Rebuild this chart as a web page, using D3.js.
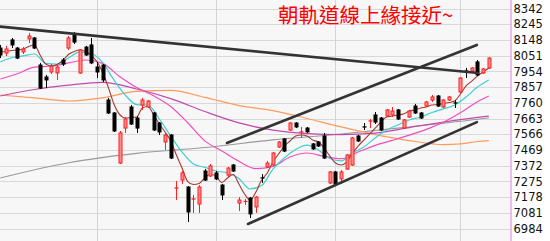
<!DOCTYPE html>
<html><head><meta charset="utf-8">
<script src="https://cdn.jsdelivr.net/npm/d3@7"></script>
<style>html,body{margin:0;padding:0;background:#fff;}svg{display:block;}</style>
</head><body>
<svg id="c" width="550" height="241"></svg>
<script>
// ---- data ----
const tickLabels = [8342, 8245, 8148, 8051, 7954, 7857, 7760, 7663, 7566, 7469, 7372, 7275, 7178, 7081, 6984];
const title = "朝軌道線上緣接近~";
// candles: open, high, low, close
const open  = [8098,8067,8148,8098,8074,8154,8160,7993,7919,7950,7944,8024,8098,8178,7944,8104,8117,7981,7993,7777,7697,7388,7604,7734,7666,7746,7734,7697,7635,7518,7561,7228,7283,7240,7160,7135,7339,7308,7327,7252,7314,7376,7141,7148,7172,7117,7299,7364,7376,7487,7537,7592,7635,7574,7604,7506,7518,7555,7265,7333,7290,7351,7376,7555,7614,7645,7685,7666,7678,7685,7716,7604,7672,7740,7697,7740,7777,7802,7734,7777,7762,7827,7959,7956,8012,7944,7975];
const high  = [8117,8111,8160,8104,8104,8191,8166,8006,7932,7999,7993,8036,8172,8197,8092,8111,8160,8012,7999,7790,7703,7586,7672,7746,7678,7790,7777,7703,7641,7574,7567,7277,7339,7246,7191,7252,7351,7382,7339,7259,7364,7382,7178,7166,7178,7185,7320,7401,7456,7524,7543,7641,7641,7611,7611,7512,7524,7574,7339,7339,7345,7444,7549,7561,7635,7660,7703,7672,7722,7734,7722,7660,7716,7753,7703,7771,7808,7808,7783,7802,7777,7919,7975,7981,8024,7975,8043];
const low   = [8036,8049,8098,8030,8061,8129,8092,7845,7851,7938,7901,7987,8086,8123,7938,8049,7999,7913,7888,7691,7580,7382,7574,7623,7574,7716,7728,7586,7561,7469,7413,7160,7259,7024,7080,7080,7277,7302,7283,7160,7302,7333,7092,7129,7049,7080,7265,7357,7370,7481,7456,7586,7604,7543,7574,7469,7487,7413,7259,7246,7259,7345,7370,7518,7592,7604,7629,7586,7672,7672,7654,7598,7666,7691,7660,7734,7765,7734,7728,7771,7728,7820,7913,7950,7925,7938,7969];
const close = [8055,8092,8117,8036,8092,8172,8098,7851,7901,7987,7981,7999,8160,8135,8086,8055,8006,7950,7901,7697,7586,7574,7660,7629,7604,7777,7771,7592,7580,7561,7419,7240,7327,7086,7172,7240,7283,7370,7290,7191,7357,7339,7160,7154,7074,7178,7293,7388,7450,7518,7462,7635,7611,7586,7580,7475,7493,7419,7333,7259,7333,7438,7543,7524,7608,7651,7641,7592,7716,7709,7660,7654,7709,7697,7666,7765,7796,7740,7777,7796,7756,7913,7953,7975,7932,7969,8036];
// moving averages
const ma5 = [8074,8077,8083,8086,8092,8107,8117,8055,7999,7987,7996,8021,8058,8077,8086,8077,8052,8015,7950,7857,7753,7688,7666,7669,7672,7728,7737,7685,7629,7580,7524,7438,7357,7274,7256,7262,7296,7320,7305,7268,7296,7317,7259,7197,7160,7209,7283,7327,7395,7444,7493,7524,7555,7561,7555,7530,7518,7481,7432,7388,7376,7395,7450,7493,7530,7567,7604,7641,7672,7678,7685,7691,7709,7716,7728,7734,7746,7749,7756,7762,7771,7814,7864,7894,7925,7950,7975];
const ma10Idx = [0,2,4,6,8,10,12,14,16,18,20,22,24,26,28,30,32,34,36,38,40,42,44,46,48,50,52,54,56,58,60,62,64,66,68,70,72,74,76,78,80,82,84,86];
const ma10 = [8012,8038,8049,8061,8003,7999,8036,8074,8064,8009,7901,7808,7749,7746,7660,7555,7456,7382,7361,7339,7327,7293,7228,7249,7351,7419,7472,7499,7469,7416,7401,7450,7487,7543,7592,7623,7654,7672,7700,7722,7746,7796,7857,7901];
const ma20Idx = [0,3,6,9,12,15,18,21,24,27,30,33,36,39,42,45,48,51,54,57,60,63,66,69,72,75,78,81,84,86];
const ma20 = [7907,7939,7980,7987,8006,8024,8003,7922,7854,7803,7737,7637,7525,7463,7399,7353,7367,7425,7450,7430,7415,7456,7497,7528,7560,7596,7640,7698,7767,7802];
const ma60Idx = [0,6,12,18,24,30,36,42,48,54,60,66,72,78,84,86];
const ma60 = [7802,7842,7869,7886,7845,7786,7706,7636,7591,7570,7564,7573,7607,7641,7670,7678];
const ma120Idx = [0,6,12,18,24,30,36,42,48,54,60,66,72,78,81,84,86];
const ma120 = [7808,7790,7771,7790,7830,7836,7793,7743,7712,7663,7611,7564,7527,7502,7506,7521,7527];
const ma240Idx = [0,12,24,36,48,60,72,84,86];
const ma240 = [7296,7390,7448,7484,7531,7567,7611,7658,7667];
// trend lines: [startIndex, startPrice, endIndex, endPrice]
const trendLines = [
  [0, 8230, 84.1, 7944],
  [39.9, 7512, 83.9, 8117],
  [43.6, 7012, 83.9, 7641]
];
const monthStarts = [17, 38, 59, 81];

// ---- drawing ----
const svg = d3.select("#c");
const W = 550, H = 241, plotRight = 510.5;
const x = d3.scaleLinear().domain([0, 86]).range([0.3, 488.8]);
const y = d3.scaleLinear().domain([6984, 8342]).range([228.5, 8.5]);

svg.append("rect").attr("x",0).attr("y",0).attr("width",plotRight).attr("height",H).attr("fill","#f7f7f7");

// horizontal grid
svg.append("g").selectAll("line").data(tickLabels).join("line")
  .attr("x1",0).attr("x2",plotRight)
  .attr("y1",d=>Math.round(y(d))+0.5).attr("y2",d=>Math.round(y(d))+0.5)
  .attr("stroke","#d9d9d9").attr("stroke-width",1);
// vertical grid
svg.append("g").selectAll("line").data(monthStarts).join("line")
  .attr("x1",d=>Math.round(x(d))+0.5).attr("x2",d=>Math.round(x(d))+0.5)
  .attr("y1",0).attr("y2",H)
  .attr("stroke","#d4d4d4").attr("stroke-width",1);

// moving averages
function maLine(idx, vals, color, w) {
  const pts = idx.map((d,i)=>[x(d), y(vals[i])]);
  svg.append("path").attr("d", d3.line().curve(d3.curveMonotoneX)(pts))
    .attr("fill","none").attr("stroke",color).attr("stroke-width",w);
}
maLine(ma240Idx, ma240, "#9a9a9a", 1.1);
maLine(ma120Idx, ma120, "#ff9a5c", 1.2);
maLine(ma60Idx, ma60, "#c24aae", 1.2);
maLine(ma20Idx, ma20, "#f04fbf", 1.2);
maLine(ma10Idx, ma10, "#3fcfd4", 1.2);
maLine(d3.range(ma5.length), ma5, "#a33a33", 1.1);

// candles
const idx = d3.range(open.length);
const g = svg.append("g");
idx.forEach(i=>{
  const up = close[i] >= open[i];
  const cx = Math.round(x(i)) + 0.5;
  const col = up ? "#ff2020" : "#000";
  g.append("line").attr("x1",cx).attr("x2",cx).attr("y1",y(high[i])).attr("y2",y(low[i]))
    .attr("stroke",col).attr("stroke-width",1);
  const top = y(Math.max(open[i],close[i])), bot = y(Math.min(open[i],close[i]));
  const h = Math.max(1, bot - top);
  if (bot - top < 2) {
    g.append("line").attr("x1",cx-2).attr("x2",cx+2).attr("y1",(top+bot)/2).attr("y2",(top+bot)/2)
      .attr("stroke",col).attr("stroke-width",1.3);
  } else {
    g.append("rect").attr("x",cx-1.5).attr("y",top).attr("width",3).attr("height",h)
      .attr("fill", up ? "#ff8a8a" : "#000").attr("stroke",col).attr("stroke-width",1);
  }
});

// trend lines
svg.append("g").selectAll("line").data(trendLines).join("line")
  .attr("x1",d=>x(d[0])).attr("y1",d=>y(d[1])).attr("x2",d=>x(d[2])).attr("y2",d=>y(d[3]))
  .attr("stroke","#333").attr("stroke-width",2.6).attr("stroke-linecap","round");

// right axis
svg.append("line").attr("x1",plotRight+0.5).attr("x2",plotRight+0.5).attr("y1",0).attr("y2",H)
  .attr("stroke","#e27ae2").attr("stroke-width",1);
const ax = svg.append("g").attr("transform",`translate(${plotRight+3},0)`)
  .call(d3.axisRight(y).tickValues(tickLabels).tickSize(0).tickPadding(0).tickFormat(d3.format("d")));
ax.select(".domain").remove();
ax.selectAll("text").attr("font-family","DejaVu Sans, Verdana, sans-serif").attr("font-size","11.5px").attr("fill","#111");

// title
svg.append("text").attr("x",278).attr("y",23).text(title)
  .attr("font-family","'Noto Sans CJK TC', sans-serif").attr("font-size","20.5px").attr("fill","#ff0000");
</script>
</body></html>
